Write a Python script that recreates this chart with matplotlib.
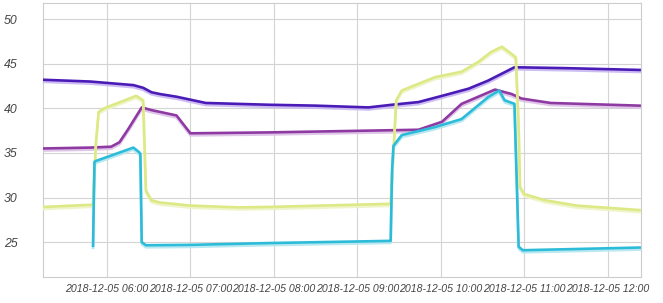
import matplotlib
matplotlib.use("Agg")
import matplotlib.pyplot as plt
import matplotlib.dates as mdates
import matplotlib.patheffects as pe
import pandas as pd

day = "2018-12-05 "

# indigo series
t_indigo = ["05:14", "05:48", "06:19", "06:26", "06:32", "06:38", "06:50", "06:59", "07:11",
            "07:56", "08:30", "09:08", "09:25", "09:44", "10:01", "10:20", "10:34", "10:53",
            "11:30", "12:23"]
v_indigo = [43.2, 43.0, 42.6, 42.3, 41.8, 41.6, 41.3, 41.0, 40.6,
            40.4, 40.3, 40.1, 40.4, 40.7, 41.4, 42.2, 43.1, 44.6,
            44.5, 44.3]

# magenta series
t_magenta = ["05:14", "05:48", "06:03", "06:09", "06:15", "06:25", "06:32", "06:50", "07:00",
             "07:56", "09:08", "09:44", "10:01", "10:15", "10:27", "10:39", "10:51", "10:58",
             "11:19", "12:23"]
v_magenta = [35.5, 35.6, 35.7, 36.2, 37.6, 40.1, 39.8, 39.2, 37.2,
             37.3, 37.5, 37.6, 38.5, 40.5, 41.3, 42.1, 41.6, 41.1,
             40.6, 40.3]

# yellow series
t_yellow = ["05:14", "05:50", "05:52", "05:54", "05:58", "06:21", "06:26", "06:28", "06:32",
            "06:38", "07:00", "07:35", "07:56", "09:24", "09:27", "09:28", "09:32", "09:56",
            "10:15", "10:27", "10:36", "10:44", "10:51", "10:54", "10:56", "10:57", "11:00",
            "11:15", "11:38", "12:23"]
v_yellow = [28.95, 29.2, 36.0, 39.6, 40.0, 41.4, 40.9, 30.8, 29.7,
            29.45, 29.1, 28.9, 28.95, 29.3, 38.0, 40.9, 42.0, 43.5,
            44.1, 45.2, 46.3, 46.9, 46.1, 45.7, 38.0, 31.2, 30.4,
            29.7, 29.1, 28.6]

# cyan series
t_cyan = ["05:50", "05:51", "05:52", "06:19", "06:23", "06:24", "06:25", "06:28", "07:00",
          "07:56", "09:24", "09:25", "09:26", "09:32", "09:56", "10:15", "10:34", "10:42",
          "10:46", "10:53", "10:55", "10:56", "10:59", "12:23"]
v_cyan = [24.6, 34.0, 34.1, 35.6, 35.1, 34.9, 25.0, 24.66, 24.7,
          24.9, 25.15, 33.0, 35.8, 37.0, 37.9, 38.8, 41.25, 42.0,
          40.9, 40.5, 30.0, 24.5, 24.1, 24.4]

series = [
    (t_indigo, v_indigo, "#4b1bb8", "#c9b6f2"),
    (t_magenta, v_magenta, "#8f3aa3", "#dcc0e6"),
    (t_yellow, v_yellow, "#dde985", "#eef3c4"),
    (t_cyan, v_cyan, "#2cbcd9", "#b2e6f0"),
]

plt.rcParams['font.family'] = ['Liberation Sans', 'DejaVu Sans']

fig = plt.figure(figsize=(6.63, 3.03), dpi=100)
ax = fig.add_axes([43 / 663, 1 - 277 / 303, 598 / 663, 274 / 303])

for t, v, c, sh in series:
    x = pd.to_datetime([day + s for s in t])
    ax.plot(x, v, color=c, linewidth=1.9, solid_joinstyle="round", zorder=3,
            path_effects=[pe.SimpleLineShadow(offset=(0, -1.5), shadow_color=sh, alpha=0.9, rho=1),
                          pe.Normal()])

ax.set_ylim(21.1, 51.8)
ax.set_yticks([25, 30, 35, 40, 45, 50])
ax.set_xlim(pd.Timestamp(day + "05:14"), pd.Timestamp(day + "12:24"))
ticks = pd.to_datetime([day + "%02d:00" % h for h in range(6, 13)])
ax.set_xticks(ticks)
ax.xaxis.set_major_formatter(mdates.DateFormatter("%Y-%m-%d %H:%M"))

ax.grid(True, color="#d4d4d4", linewidth=0.8)
ax.set_axisbelow(True)
for s in ax.spines.values():
    s.set_color("#cccccc")
    s.set_linewidth(0.8)
ax.tick_params(length=0, labelsize=8.8, colors="#444444")
ax.tick_params(axis="x", pad=5, labelsize=7.6)
ax.tick_params(axis="y", pad=28)
for lab in ax.get_xticklabels() + ax.get_yticklabels():
    lab.set_fontstyle("italic")
for lab in ax.get_yticklabels():
    lab.set_horizontalalignment("left")

fig.savefig("out.png", dpi=100)
